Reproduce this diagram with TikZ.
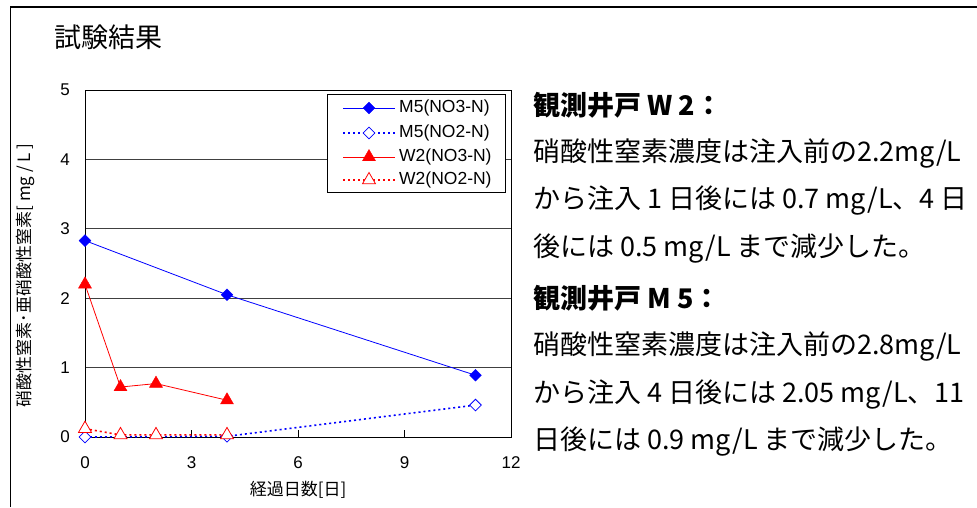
\documentclass[tikz,border=0pt]{standalone}
\usepackage{fontspec}
\setmainfont{Liberation Sans}
\newfontfamily\jpfont{Noto Sans CJK JP}
\usetikzlibrary{shapes.geometric,positioning}

\begin{document}
\begin{tikzpicture}
[x=1pt,y=-1pt,
chart frame/.style={line width=0.8pt},
chart grid/.style={line width=0.8pt, color=black!75},
chart ticklabel/.style={font=\fontsize{17}{17}\selectfont},
chart axislabel/.style={font=\jpfont\fontsize{17}{17}\selectfont},
chart legendtext/.style={font=\fontsize{17.5}{18}\selectfont, anchor=west, inner sep=0pt},
chart bluesolid/.style={color=blue, line width=0.8pt},
chart bluedotted/.style={color=blue, line width=1.6pt, dash pattern=on 2pt off 3pt},
chart redsolid/.style={color=red, line width=0.8pt},
chart reddotted/.style={color=red, line width=1.6pt, dash pattern=on 2pt off 3pt},
chart bluediamond/.style={diamond, draw=blue, fill=blue, minimum size=12pt, inner sep=0pt},
chart opendiamond/.style={diamond, draw=blue, fill=white, line width=0.8pt, minimum size=12pt, inner sep=0pt},
chart redtriangle/.style={regular polygon, regular polygon sides=3, draw=red, fill=red, minimum size=15pt, inner sep=0pt},
chart opentriangle/.style={regular polygon, regular polygon sides=3, draw=red, fill=white, line width=0.8pt, minimum size=15pt, inner sep=0pt},
memo text/.style={font=\jpfont\fontsize{27}{27}\selectfont, anchor=west, inner sep=0pt},
memo head/.style={memo text, font=\jpfont\bfseries\fontsize{27}{27}\selectfont},
memo title/.style={font=\jpfont\fontsize{27}{27}\selectfont}
]
\useasboundingbox (0,0) rectangle (977,507);

% outer frame
\draw[line width=1.5pt] (10.5,507) -- (10.5,7) -- (977,7);
\node[memo title] (title) at (108,37) {試験結果};

% chart
\begin{scope}[shift={(85,437)}, x=35.5pt, y=69.4pt]
\foreach \v in {1,...,4}
  \draw[chart grid] (0,\v) -- (12,\v);
\draw[chart frame] (0,0) rectangle (12,5);
\foreach \d in {3,6,9}
  \draw[chart frame] (\d,0) -- ++(0,0.1);
\foreach \d in {0,3,...,12}
  \node[chart ticklabel] (xt\d) at (\d,-0.37) {\d};
\foreach \v in {0,...,5}
  \node[chart ticklabel] (yt\v) at (-0.56,\v) {\v};
\node[chart axislabel] (xlabel) at (6,-0.76) {経過日数[日]};
\node[chart axislabel, rotate=90] (ylabel) at (-1.69,2.33) {硝酸性窒素･亜硝酸性窒素[ mg / L ]};

% M5(NO3-N)
\coordinate (m5a) at (0,2.83);
\coordinate (m5b) at (4,2.05);
\coordinate (m5c) at (11,0.89);
\draw[chart bluesolid] (m5a) -- (m5b) -- (m5c);
\foreach \p in {m5a,m5b,m5c}
  \node[chart bluediamond] at (\p) {};

% M5(NO2-N)
\coordinate (m5n0) at (0,0);
\coordinate (m5n4) at (4,0.01);
\coordinate (m5n11) at (11,0.46);
\draw[chart bluedotted] (m5n0) -- (m5n4) -- (m5n11);
\foreach \p in {m5n0,m5n4,m5n11}
  \node[chart opendiamond] at (\p) {};

% W2(NO3-N)
\coordinate (w2a) at (0,2.2);
\coordinate (w2b) at (1,0.72);
\coordinate (w2c) at (2,0.77);
\coordinate (w2d) at (4,0.53);
\draw[chart redsolid] (w2a) -- (w2b) -- (w2c) -- (w2d);
\foreach \p in {w2a,w2b,w2c,w2d}
  \node[chart redtriangle] at (\p) {};

% W2(NO2-N)
\coordinate (w2n0) at (0,0.12);
\coordinate (w2n1) at (1,0.03);
\coordinate (w2n2) at (2,0.03);
\coordinate (w2n4) at (4,0.03);
\draw[chart reddotted] (w2n0) -- (w2n1) -- (w2n2) -- (w2n4);
\foreach \p in {w2n0,w2n1,w2n2,w2n4}
  \node[chart opentriangle] at (\p) {};
\end{scope}

% legend
\node[draw, fill=white, line width=0.8pt, minimum width=178pt, minimum height=98pt, anchor=north west] (legend) at (327,94) {};
\coordinate (la1) at (343,108); \coordinate (lb1) at (395,108);
\coordinate (la2) at (343,133); \coordinate (lb2) at (395,133);
\coordinate (la3) at (343,157); \coordinate (lb3) at (395,157);
\coordinate (la4) at (343,180); \coordinate (lb4) at (395,180);
\draw[chart bluesolid] (la1) -- (lb1);
\node[chart bluediamond] (lm1) at (369,108) {};
\draw[chart bluedotted] (la2) -- (lb2);
\node[chart opendiamond] (lm2) at (369,133) {};
\draw[chart redsolid] (la3) -- (lb3);
\node[chart redtriangle] (lm3) at (369,157) {};
\draw[chart reddotted] (la4) -- (lb4);
\node[chart opentriangle] (lm4) at (369,180) {};
\node[chart legendtext] (lt1) at (399,108) {M5(NO3-N)};
\node[chart legendtext] (lt2) at (399,133) {M5(NO2-N)};
\node[chart legendtext] (lt3) at (399,157) {W2(NO3-N)};
\node[chart legendtext] (lt4) at (399,180) {W2(NO2-N)};

% notes W2
\node[memo head] (w2head) at (533,105) {観測井戸 W 2：};
\node[memo text, below=48pt of w2head.west, anchor=west] (w2l1) {硝酸性窒素濃度は注入前の2.2mg/L};
\node[memo text, below=48pt of w2l1.west, anchor=west] (w2l2) {から注入 1 日後には 0.7 mg/L、4 日};
\node[memo text, below=48pt of w2l2.west, anchor=west] (w2l3) {後には 0.5 mg/L まで減少した。};

% notes M5
\node[memo head, below=49pt of w2l3.west, anchor=west] (m5head) {観測井戸 M 5：};
\node[memo text, below=48pt of m5head.west, anchor=west] (m5l1) {硝酸性窒素濃度は注入前の2.8mg/L};
\node[memo text, below=48pt of m5l1.west, anchor=west] (m5l2) {から注入 4 日後には 2.05 mg/L、11};
\node[memo text, below=48pt of m5l2.west, anchor=west] (m5l3) {日後には 0.9 mg/L まで減少した。};

\end{tikzpicture}
\end{document}
